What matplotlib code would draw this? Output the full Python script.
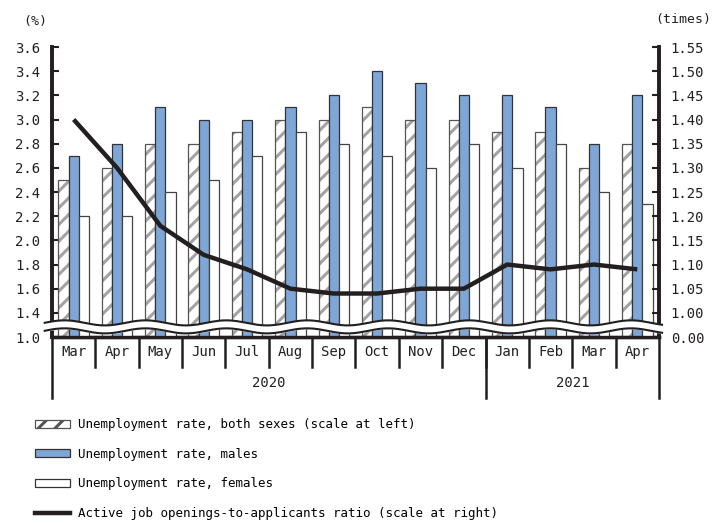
import matplotlib
matplotlib.use("Agg")
import matplotlib.pyplot as plt
import matplotlib.transforms as mtransforms
from matplotlib.patches import Patch
from matplotlib.lines import Line2D
import numpy as np

plt.rcParams['font.family'] = ['DejaVu Sans Mono']
plt.rcParams['hatch.linewidth'] = 2.2
plt.rcParams['hatch.color'] = '#a3a3a3'

# Monthly data, Mar 2020 - Apr 2021
months = ['Mar', 'Apr', 'May', 'Jun', 'Jul', 'Aug', 'Sep', 'Oct', 'Nov', 'Dec',
          'Jan', 'Feb', 'Mar', 'Apr']
years = ['2020', '2021']
year_counts = [10, 4]
rate_both = [2.5, 2.6, 2.8, 2.8, 2.9, 3.0, 3.0, 3.1, 3.0, 3.0, 2.9, 2.9, 2.6, 2.8]
rate_males = [2.7, 2.8, 3.1, 3.0, 3.0, 3.1, 3.2, 3.4, 3.3, 3.2, 3.2, 3.1, 2.8, 3.2]
rate_females = [2.2, 2.2, 2.4, 2.5, 2.7, 2.9, 2.8, 2.7, 2.6, 2.8, 2.6, 2.8, 2.4, 2.3]
jobs_ratio = [1.40, 1.30, 1.18, 1.12, 1.09, 1.05, 1.04, 1.04, 1.05, 1.05,
              1.10, 1.09, 1.10, 1.09]

# the lowest tick stands in for the broken part of each axis
left_ticks = [1.2, 1.4, 1.6, 1.8, 2.0, 2.2, 2.4, 2.6, 2.8, 3.0, 3.2, 3.4, 3.6]
left_labels = ['1.0', '1.4', '1.6', '1.8', '2.0', '2.2', '2.4', '2.6', '2.8',
               '3.0', '3.2', '3.4', '3.6']
right_ticks = [0.95, 1.00, 1.05, 1.10, 1.15, 1.20, 1.25, 1.30, 1.35, 1.40,
               1.45, 1.50, 1.55]
right_labels = ['0.00', '1.00', '1.05', '1.10', '1.15', '1.20', '1.25', '1.30',
                '1.35', '1.40', '1.45', '1.50', '1.55']

INK = '#231f20'
BLUE = '#7ea7d8'

fig = plt.figure(figsize=(7.24, 5.23), dpi=100)
ax = fig.add_axes([0.0718, 0.3556, 0.8384, 0.5545])
ax2 = ax.twinx()

x = np.arange(len(months))
w = 0.235
ax.bar(x - w, rate_both, w, color='white', hatch='//', edgecolor='#a3a3a3',
       linewidth=0, zorder=2)
ax.bar(x - w, rate_both, w, color='none', edgecolor='#555555', linewidth=0.9,
       zorder=3)
ax.bar(x, rate_males, w, color=BLUE, edgecolor='#333333', linewidth=0.9,
       zorder=3)
ax.bar(x + w, rate_females, w, color='white', edgecolor='#444444',
       linewidth=0.9, zorder=3)

ax.set_xlim(-0.5, len(months) - 0.5)
ax.set_ylim(1.2, 3.6)
ax.set_yticks(left_ticks)
ax.set_yticklabels(left_labels)
ax.set_xticks([])

ax2.plot(x, jobs_ratio, color=INK, linewidth=3.2, solid_capstyle='butt',
         zorder=5)
ax2.set_ylim(0.95, 1.55)
ax2.set_yticks(right_ticks)
ax2.set_yticklabels(right_labels)

for a in (ax, ax2):
    a.spines['top'].set_visible(False)
    a.spines['left'].set_linewidth(2.6)
    a.spines['right'].set_linewidth(2.6)
    a.spines['bottom'].set_linewidth(2.4)
    for s in a.spines.values():
        s.set_color(INK)
    a.tick_params(axis='y', direction='in', length=5, width=1.5,
                  labelsize=10, pad=8.5, colors=INK)
ax.patch.set_visible(False)

# Axis break: white band with two wavy lines
trans = mtransforms.blended_transform_factory(ax.transAxes, ax.transData)
xs = np.linspace(-0.012, 1.005, 400)
wave = 0.021 * np.sin(xs * 2 * np.pi * 7.5 + 0.6)
upper = 1.317 + wave
lower = 1.251 + wave
ax2.fill_between(xs, lower, upper, color='white', transform=trans,
                 clip_on=False, zorder=6)
for band in (upper, lower):
    ax2.plot(xs, band, color=INK, linewidth=1.5, transform=trans,
             clip_on=False, zorder=7)

# Month / year table under the plot
tb = ax.transAxes
n = len(months)
for i in range(1, n):
    ax.plot([i / n, i / n], [0, -0.105], color=INK, linewidth=1.8,
            transform=tb, clip_on=False)
for i, m in enumerate(months):
    ax.text((i + 0.5) / n, -0.053, m, transform=tb, ha='center', va='center',
            fontsize=10, color=INK)
edges = np.cumsum([0] + year_counts)
for e in edges:
    ax.plot([e / n, e / n], [0, -0.21], color=INK, linewidth=1.8,
            transform=tb, clip_on=False)
for yr, a, b in zip(years, edges[:-1], edges[1:]):
    ax.text((a + b) / 2 / n, -0.16, yr, transform=tb, ha='center',
            va='center', fontsize=10, color=INK)

fig.text(0.048, 0.958, '(%)', ha='center', va='center', fontsize=9.5,
         color=INK)
fig.text(0.944, 0.962, '(times)', ha='center', va='center', fontsize=9.5,
         color=INK)

handles = [
    Patch(facecolor='white', hatch='//', edgecolor='#555555', linewidth=0.9),
    Patch(facecolor=BLUE, edgecolor='#333333', linewidth=0.9),
    Patch(facecolor='white', edgecolor='#333333', linewidth=0.9),
    Line2D([], [], color=INK, linewidth=3.2),
]
labels = [
    'Unemployment rate, both sexes (scale at left)',
    'Unemployment rate, males',
    'Unemployment rate, females',
    'Active job openings-to-applicants ratio (scale at right)',
]
fig.legend(handles, labels, loc='upper left', bbox_to_anchor=(0.041, 0.210),
           frameon=False, fontsize=9, handlelength=2.8, handleheight=0.6,
           handletextpad=0.64, labelspacing=1.33, borderaxespad=0)

fig.savefig('out.png', dpi=100)
